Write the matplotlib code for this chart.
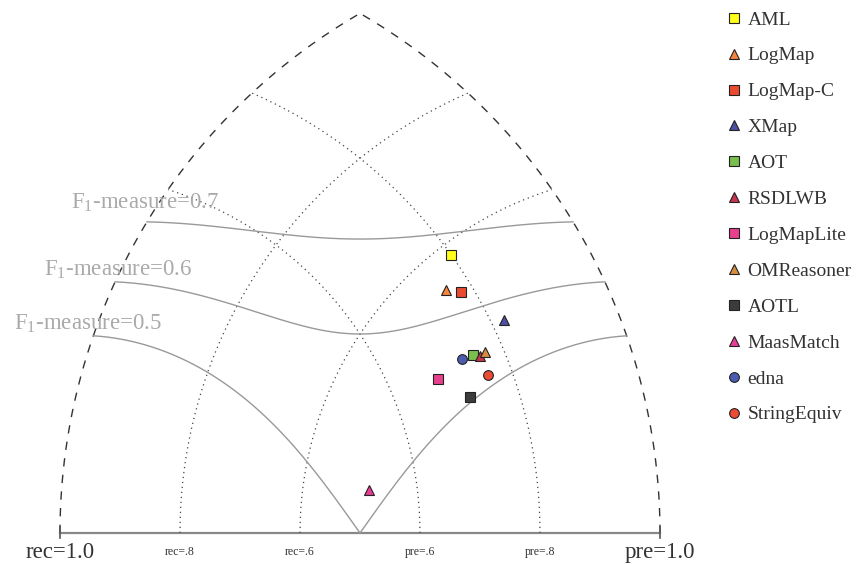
import numpy as np
import matplotlib
matplotlib.use("Agg")
import matplotlib.pyplot as plt
from matplotlib.lines import Line2D

plt.rcParams['font.family'] = ['Liberation Serif', 'DejaVu Serif']
plt.rcParams['mathtext.fontset'] = 'custom'
plt.rcParams['mathtext.rm'] = 'Liberation Serif'
plt.rcParams['mathtext.it'] = 'Liberation Serif:italic'

# ---- data (precision, recall) ----
systems = ["AML", "LogMap", "LogMap-C", "XMap", "AOT", "RSDLWB", "LogMapLite",
           "OMReasoner", "AOTL", "MaasMatch", "edna", "StringEquiv"]
precision = [0.80, 0.76, 0.78, 0.82, 0.75, 0.76, 0.68, 0.77, 0.72, 0.52, 0.73, 0.76]
recall = [0.58, 0.54, 0.52, 0.44, 0.43, 0.42, 0.45, 0.42, 0.39, 0.49, 0.44, 0.39]
markers = ["s", "^", "s", "^", "s", "^", "s", "^", "s", "^", "o", "o"]
colors = ["#ffff1a", "#f5843c", "#ea4b30", "#4d4fa0", "#78bf4e", "#c8334d",
          "#e8408c", "#d68c3e", "#3c3c3c", "#e83c96", "#4b5cae", "#ec4b35"]
f_levels = [0.5, 0.6, 0.7]
grid_levels = [0.6, 0.8]


def pos(p, r):
    p = np.asarray(p, float)
    r = np.asarray(r, float)
    x = (p ** 2 - r ** 2 + 1) / 2
    y = np.sqrt(np.clip(p ** 2 - x ** 2, 0, None))
    return x, y


fig = plt.figure(figsize=(8.57, 5.65), dpi=100)
ax = fig.add_axes([0, 0, 1, 1])
ax.set_xlim(-0.1, 797 / 600)
ax.set_ylim(-32 / 600, 533 / 600)
ax.axis('off')

t = np.linspace(0, 1, 400)
# outer sides (dashed)
x, y = pos(t, np.ones_like(t))
ax.plot(x, y, color='#333333', lw=1.0, ls=(0, (6, 6)))
x, y = pos(np.ones_like(t), t)
ax.plot(x, y, color='#333333', lw=1.0, ls=(0, (6, 6)))
# base
ax.plot([0, 1], [0, 0], color='#888888', lw=1.6)
ax.plot([0, 0], [-0.008, 0.01], color='#555555', lw=1.2)
ax.plot([1, 1], [-0.008, 0.01], color='#555555', lw=1.2)

# dotted grid arcs
for g in grid_levels:
    s = np.linspace(1 - g, 1, 300)
    x, y = pos(s, np.full_like(s, g))       # recall arcs
    ax.plot(x, y, color='#444444', lw=0.9, ls=(0, (1, 3)))
    x, y = pos(np.full_like(s, g), s)       # precision arcs
    ax.plot(x, y, color='#444444', lw=0.9, ls=(0, (1, 3)))

# F-measure curves
label_off = {0.7: (-2, 19), 0.6: (3, 12), 0.5: (-5, 12)}
for f in f_levels:
    p0 = f / (2 - f)
    p = np.unique(np.concatenate([np.linspace(p0, 1, 2000), [f]]))
    r = f * p / (2 * p - f)
    x, y = pos(p, r)
    ax.plot(x, y, color='#999999', lw=1.0)
    ax.annotate("F$_1$-measure=%.1f" % f, xy=(x[0], y[0]),
                xytext=label_off[f], textcoords='offset pixels',
                ha='center', va='center', fontsize=16.5, color='#aaaaaa')

# corner and grid labels
ax.text(0, -0.032, "rec=1.0", ha='center', va='center', fontsize=16.5, color='#333333')
ax.text(1, -0.032, "pre=1.0", ha='center', va='center', fontsize=16.5, color='#333333')
for g in grid_levels:
    ax.text(1 - g, -0.031, "rec=.%d" % round(g * 10), ha='center', va='center',
            fontsize=8.5, color='#333333')
    ax.text(g, -0.031, "pre=.%d" % round(g * 10), ha='center', va='center',
            fontsize=8.5, color='#333333')

# systems
handles = []
for name, p, r, m, c in zip(systems, precision, recall, markers, colors):
    x, y = pos(p, r)
    ax.plot([x], [y], marker=m, ms=7, color=c, mec='#222222', mew=0.8, ls='none')
    handles.append(Line2D([], [], marker=m, ms=7, color=c, mec='#222222',
                          mew=0.8, ls='none', label=name))

fig.legend(handles=handles, loc='upper left', bbox_to_anchor=(726 / 857, 1 - 11 / 565),
           frameon=False, fontsize=14, handlelength=0.8, handletextpad=0.3,
           labelspacing=0.94, borderpad=0, borderaxespad=0, labelcolor='#333333')

fig.savefig("out.png", dpi=100)
